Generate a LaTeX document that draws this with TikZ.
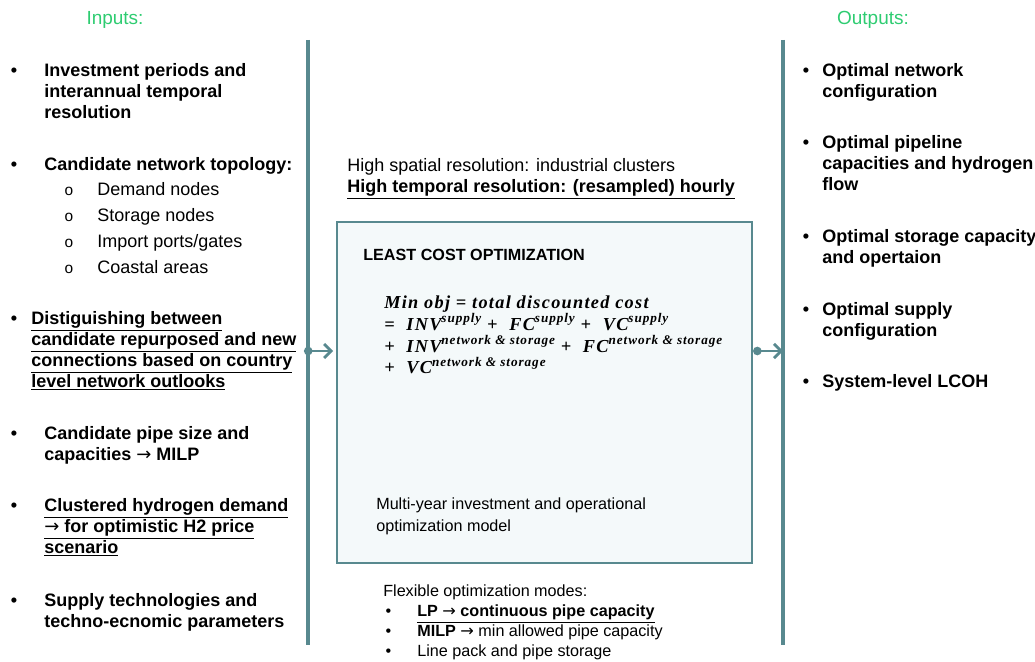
\documentclass[tikz,border=0pt]{standalone}
\usepackage{fontspec}
\setmainfont{Liberation Sans}
\newfontfamily\symfont{DejaVu Sans}
\newfontfamily\eqfont[LetterSpace=7]{Liberation Serif}
\usetikzlibrary{arrows.meta}
\definecolor{tealline}{RGB}{88,137,143}
\definecolor{boxfill}{RGB}{244,249,250}
\definecolor{headgreen}{RGB}{46,204,113}
\newcommand{\fsz}{\fontsize{12.8}{14.9}\selectfont}
\newcommand{\bul}[1]{\llap{\textbullet\hspace{#1}}}
\newcommand{\subbul}{\llap{{\fontsize{11}{12}\selectfont o}\hspace{0.6cm}}}
\newcommand{\arr}{{\symfont\mdseries →}}
\newcommand{\up}[1]{\raisebox{0.42em}{\fontsize{9.4}{10}\selectfont #1}}
\newcommand{\ns}{\up{network \& storage}}
\begin{document}
\begin{tikzpicture}[x=0.025cm,y=-0.025cm,
  item/.style={anchor=north west,inner sep=0pt,align=left,font=\fsz\bfseries},
  plain/.style={anchor=north west,inner sep=0pt,align=left,font=\fsz},
  small/.style={anchor=north west,inner sep=0pt,align=left,font=\fontsize{11.5}{14.2}\selectfont},
  head/.style={inner sep=0pt,text=headgreen,font=\fontsize{13.5}{16}\selectfont},
  rail/.style={draw=tealline,line width=2.2pt},
  flow/.style={draw=tealline,line width=2pt,
    {Circle[length=6pt]}-{Straight Barb[length=5pt,width=10pt]}}]
\useasboundingbox (0,0) rectangle (1035,662);

% headers
\node[head] (hin) at (115,20) {Inputs:};
\node[head] (hout) at (873,20) {Outputs:};

% rails and model box
\draw[rail] (308,40) -- (308,645);
\draw[rail] (783,40) -- (783,645);
\node[draw=tealline,line width=1.5pt,fill=boxfill,minimum width=10.375cm,minimum height=8.525cm,inner sep=0pt] (lco) at (544.5,392.5) {};
\coordinate (inL) at (308,351);
\coordinate (outR) at (783,351);
\draw[flow,shorten <=-0.1cm,shorten >=2pt] (inL) -- (inL -| lco.west);
\draw[flow] (lco.east |- outR) -- (outR);

% inputs
\node[item] (in1) at (44,63) {\bul{0.675cm}Investment periods and\\interannual temporal\\resolution};
\node[item] (in2) at (44,157) {\bul{0.675cm}Candidate network topology:};
\node[plain] (in2sub) at (97,182) {\subbul Demand nodes\\[3.6pt]\subbul Storage nodes\\[3.6pt]\subbul Import ports/gates\\[3.6pt]\subbul Coastal areas};
\node[item] (in3) at (31,311) {\bul{0.35cm}\underline{Distiguishing between}\\\underline{candidate repurposed and new}\\\underline{connections based on country}\\\underline{level network outlooks}};
\node[item] (in4) at (44,426) {\bul{0.675cm}Candidate pipe size and\\capacities \arr{} MILP};
\node[item] (in5) at (44,498) {\bul{0.675cm}\underline{Clustered hydrogen demand}\\\underline{\arr{} for optimistic H2 price}\\\underline{scenario}};
\node[item] (in6) at (44,593) {\bul{0.675cm}Supply technologies and\\techno-ecnomic parameters};

% outputs
\node[item] (out1) at (822,63) {\bul{0.325cm}Optimal network\\configuration};
\node[item] (out2) at (822,135) {\bul{0.325cm}Optimal pipeline\\capacities and hydrogen\\flow};
\node[item] (out3) at (822,229) {\bul{0.325cm}Optimal storage capacity\\and opertaion};
\node[item] (out4) at (822,302) {\bul{0.325cm}Optimal supply\\configuration};
\node[item] (out5) at (822,374) {\bul{0.325cm}System-level LCOH};

% model text
\node[plain] (res) at (347,158) {High spatial resolution: industrial clusters\\\textbf{\underline{High temporal resolution: (resampled) hourly}}};
\node[item,font=\fontsize{11.5}{14}\selectfont\bfseries] (ttl) at (363,249) {LEAST COST OPTIMIZATION};
\node[plain,font=\fontsize{13}{15.4}\eqfont\bfseries\itshape] (obj) at (384,296) {Min obj = total discounted cost\\
  =\ \ INV\up{supply} +\ \ FC\up{supply} +\ \ VC\up{supply}\\
  +\ \ INV\ns{} +\ \ FC\ns\\
  +\ \ VC\ns};
\node[small,font=\fontsize{11.5}{15.6}\selectfont] (mdl) at (376,498) {Multi-year investment and operational\\optimization model};
\node[small] (modes) at (383,585) {Flexible optimization modes:};
\node[small] (mode1) at (417,605) {\bul{0.65cm}\textbf{\underline{LP \arr{} continuous pipe capacity}}};
\node[small] (mode2) at (417,625) {\bul{0.65cm}\textbf{MILP} \arr{} min allowed pipe capacity};
\node[small] (mode3) at (417,645) {\bul{0.65cm}Line pack and pipe storage};
\end{tikzpicture}
\end{document}
